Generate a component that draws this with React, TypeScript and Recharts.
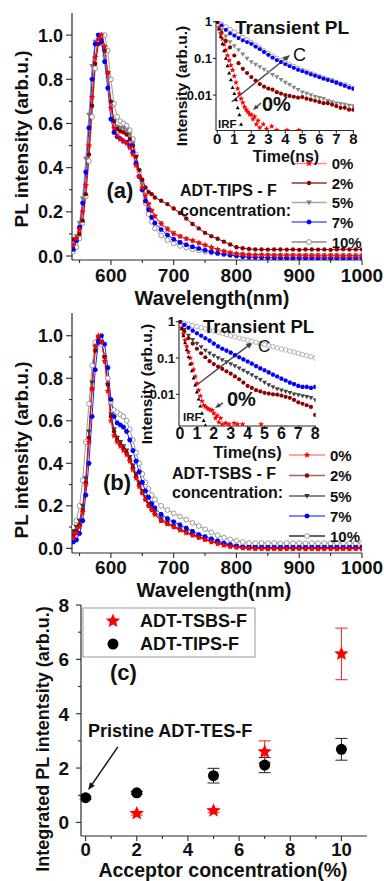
import React from 'react';
import { LineChart, Line, XAxis, YAxis, ReferenceLine, ComposedChart, Scatter, ErrorBar } from 'recharts';

const FONT = "'Liberation Sans', Arial, Helvetica, sans-serif";
const AX = '#2a2a2a';

// ---------- Panel (a)/(b) spectra ----------
const WL = [540, 545, 550, 555, 560, 565, 570, 575, 580, 585,
  590, 595, 600, 605, 610, 615, 620, 625, 630, 635,
  640, 645, 650, 655, 660, 665, 670, 680, 690, 700,
  710, 720, 730, 740, 750, 760, 770, 780, 790, 800,
  810, 820, 830, 840, 850, 860, 870, 880, 890, 900,
  910, 920, 930, 940, 950, 960, 970, 980, 990, 1000];

const PA_0 = [0.05, 0.08, 0.12, 0.2, 0.32, 0.5, 0.72, 0.9, 0.98, 1.0,
  0.95, 0.83, 0.67, 0.58, 0.545, 0.53, 0.52, 0.51, 0.49, 0.46,
  0.41, 0.36, 0.31, 0.27, 0.235, 0.205, 0.18, 0.145, 0.12, 0.1,
  0.088, 0.078, 0.07, 0.06, 0.05, 0.04, 0.03, 0.022, 0.015, 0.01,
  0.007, 0.005, 0.004, 0.003, 0.003, 0.002, 0.002, 0.002, 0.002, 0.001,
  0.001, 0.001, 0.001, 0.0, 0.001, 0.0, 0.0, 0.0, -0.001, 0.0];
const PA_2 = [0.075, 0.08, 0.1, 0.16, 0.28, 0.46, 0.68, 0.87, 0.96, 0.98,
  0.93, 0.83, 0.7, 0.61, 0.575, 0.565, 0.56, 0.55, 0.53, 0.5,
  0.45, 0.39, 0.345, 0.31, 0.29, 0.28, 0.265, 0.25, 0.235, 0.215,
  0.195, 0.17, 0.145, 0.125, 0.105, 0.09, 0.078, 0.065, 0.052, 0.04,
  0.035, 0.032, 0.03, 0.03, 0.029, 0.03, 0.03, 0.029, 0.03, 0.028,
  0.03, 0.03, 0.029, 0.03, 0.028, 0.03, 0.031, 0.03, 0.03, 0.03];
const PA_5 = [0.04, 0.09, 0.15, 0.26, 0.44, 0.64, 0.86, 0.97, 1.0, 0.96,
  0.9, 0.8, 0.68, 0.61, 0.585, 0.58, 0.58, 0.57, 0.55, 0.51,
  0.45, 0.385, 0.325, 0.275, 0.235, 0.205, 0.18, 0.15, 0.125, 0.105,
  0.09, 0.078, 0.067, 0.057, 0.047, 0.037, 0.028, 0.021, 0.015, 0.011,
  0.008, 0.006, 0.005, 0.005, 0.004, 0.004, 0.004, 0.004, 0.004, 0.003,
  0.004, 0.003, 0.004, 0.003, 0.003, 0.004, 0.003, 0.003, 0.003, 0.003];
const PA_7 = [0.03, 0.07, 0.13, 0.24, 0.38, 0.58, 0.8, 0.96, 1.0, 0.97,
  0.88, 0.76, 0.62, 0.56, 0.54, 0.53, 0.52, 0.515, 0.5, 0.47,
  0.42, 0.36, 0.3, 0.25, 0.21, 0.175, 0.15, 0.12, 0.095, 0.076,
  0.062, 0.051, 0.042, 0.034, 0.026, 0.019, 0.013, 0.008, 0.004, 0.0,
  -0.003, -0.005, -0.006, -0.007, -0.008, -0.008, -0.009, -0.009, -0.009, -0.009,
  -0.009, -0.009, -0.009, -0.009, -0.01, -0.009, -0.009, -0.01, -0.009, -0.009];
const PA_10 = [0.02, 0.04, 0.08, 0.15, 0.27, 0.43, 0.63, 0.85, 0.97, 1.0,
  1.0, 0.93, 0.8, 0.69, 0.63, 0.61, 0.6, 0.59, 0.57, 0.53,
  0.46, 0.38, 0.3, 0.24, 0.19, 0.155, 0.125, 0.093, 0.072, 0.057,
  0.046, 0.038, 0.031, 0.025, 0.02, 0.016, 0.012, 0.01, 0.008, 0.006,
  0.005, 0.004, 0.003, 0.003, 0.003, 0.002, 0.002, 0.002, 0.002, 0.002,
  0.002, 0.002, 0.002, 0.002, 0.002, 0.002, 0.002, 0.002, 0.002, 0.002];

const PB_0 = [0.05, 0.07, 0.1, 0.17, 0.3, 0.5, 0.75, 0.95, 1.0, 0.97,
  0.88, 0.74, 0.6, 0.53, 0.5, 0.48, 0.46, 0.44, 0.41, 0.37,
  0.33, 0.29, 0.26, 0.23, 0.2, 0.18, 0.16, 0.13, 0.115, 0.1,
  0.085, 0.072, 0.06, 0.05, 0.04, 0.03, 0.022, 0.014, 0.008, 0.004,
  0.001, 0.0, -0.002, -0.002, -0.003, -0.002, -0.003, -0.002, -0.003, -0.002,
  -0.003, -0.002, -0.003, -0.003, -0.002, -0.003, -0.002, -0.003, -0.002, -0.003];
const PB_2 = [0.06, 0.08, 0.11, 0.18, 0.31, 0.52, 0.75, 0.93, 0.98, 0.97,
  0.9, 0.77, 0.62, 0.55, 0.51, 0.49, 0.47, 0.45, 0.42, 0.38,
  0.34, 0.3, 0.26, 0.23, 0.2, 0.18, 0.16, 0.13, 0.115, 0.1,
  0.088, 0.075, 0.063, 0.052, 0.042, 0.032, 0.024, 0.016, 0.01, 0.005,
  0.002, 0.0, -0.001, -0.001, -0.002, -0.001, -0.002, -0.001, -0.002, -0.001,
  -0.002, -0.001, -0.002, -0.002, -0.001, -0.002, -0.001, -0.002, -0.001, -0.002];
const PB_5 = [0.08, 0.1, 0.13, 0.2, 0.33, 0.55, 0.78, 0.95, 0.99, 0.97,
  0.9, 0.77, 0.63, 0.56, 0.52, 0.5, 0.48, 0.46, 0.43, 0.39,
  0.35, 0.31, 0.27, 0.24, 0.21, 0.19, 0.17, 0.14, 0.12, 0.105,
  0.09, 0.077, 0.065, 0.055, 0.045, 0.035, 0.027, 0.02, 0.014, 0.01,
  0.008, 0.007, 0.006, 0.005, 0.005, 0.005, 0.005, 0.005, 0.005, 0.005,
  0.005, 0.005, 0.005, 0.005, 0.005, 0.005, 0.005, 0.005, 0.005, 0.005];
const PB_7 = [0.03, 0.04, 0.07, 0.13, 0.25, 0.4, 0.62, 0.84, 0.97, 1.0,
  0.96, 0.85, 0.7, 0.62, 0.59, 0.58, 0.57, 0.55, 0.51, 0.46,
  0.41, 0.36, 0.31, 0.27, 0.24, 0.21, 0.19, 0.16, 0.14, 0.125,
  0.11, 0.095, 0.08, 0.065, 0.055, 0.045, 0.035, 0.025, 0.017, 0.01,
  0.005, 0.003, 0.003, 0.004, 0.003, 0.004, 0.003, 0.004, 0.003, 0.004,
  0.003, 0.004, 0.003, 0.004, 0.003, 0.004, 0.003, 0.004, 0.003, 0.003];
const PB_10 = [0.1, 0.13, 0.2, 0.32, 0.5, 0.68, 0.86, 0.97, 0.98, 0.96,
  0.9, 0.8, 0.69, 0.65, 0.64, 0.63, 0.62, 0.6, 0.56, 0.51,
  0.45, 0.4, 0.35, 0.31, 0.28, 0.25, 0.23, 0.2, 0.18, 0.165,
  0.15, 0.135, 0.12, 0.105, 0.09, 0.075, 0.062, 0.05, 0.042, 0.035,
  0.03, 0.025, 0.024, 0.025, 0.024, 0.025, 0.024, 0.025, 0.024, 0.025,
  0.024, 0.025, 0.024, 0.025, 0.024, 0.025, 0.024, 0.025, 0.024, 0.025];

const WL_TICKS = [550, 600, 650, 700, 750, 800, 850, 900, 950, 1000];
const WL_MAJOR = [600, 700, 800, 900, 1000];
const PL_TICKS = [0, 0.1, 0.2, 0.3, 0.4, 0.5, 0.6, 0.7, 0.8, 0.9, 1.0];
const PL_MAJOR = [0, 0.2, 0.4, 0.6, 0.8, 1.0];
const CONC_LABELS = ['0%', '2%', '5%', '7%', '10%'];

// ---------- insets: transient PL ----------
const T = [0, 0.25, 0.5, 0.75, 1, 1.25, 1.5, 1.75, 2, 2.25, 2.5, 2.75, 3, 3.25, 3.5, 3.75, 4,
  4.25, 4.5, 4.75, 5, 5.25, 5.5, 5.75, 6, 6.25, 6.5, 6.75, 7, 7.25, 7.5, 7.75, 8];

const TA_0 = [0, 0.1, 0.2, 0.3, 0.4, 0.5, 0.6, 0.7, 0.8, 0.9, 1.0, 1.1, 1.2, 1.3, 1.4, 1.5,
  1.6, 1.7, 1.8, 1.9, 2.0, 2.1, 2.2, 2.3, 2.4, 2.5, 2.7, 2.9, 3.2, 3.5, 4.1, 4.8];
const IA_0 = [1, 0.7, 0.49, 0.34, 0.24, 0.17, 0.12, 0.088, 0.065, 0.048, 0.033, 0.022, 0.015, 0.011, 0.008, 0.0062,
  0.0048, 0.004, 0.0035, 0.003, 0.0029, 0.0022, 0.0026, 0.0016, 0.002, 0.0013, 0.0016, 0.0012, 0.0014, 0.0011, 0.0011, 0.0011];
const IA_2 = [1, 0.5, 0.3, 0.2, 0.12, 0.074, 0.052, 0.04, 0.031, 0.025, 0.02, 0.017, 0.015, 0.014, 0.012, 0.011, 0.01,
  0.0095, 0.009, 0.0085, 0.0088, 0.008, 0.0075, 0.007, 0.0065, 0.006, 0.006, 0.0055, 0.005, 0.0045, 0.0045, 0.004, 0.004];
const IA_5 = [1, 0.6, 0.4, 0.28, 0.22, 0.17, 0.13, 0.1, 0.08, 0.068, 0.058, 0.05, 0.042, 0.036, 0.031, 0.026, 0.022,
  0.019, 0.016, 0.014, 0.012, 0.011, 0.01, 0.009, 0.0085, 0.008, 0.007, 0.0065, 0.006, 0.0058, 0.0055, 0.0052, 0.005];
const IA_7 = [1, 0.8, 0.6, 0.48, 0.42, 0.36, 0.31, 0.28, 0.25, 0.21, 0.18, 0.15, 0.125, 0.105, 0.09, 0.08, 0.07,
  0.062, 0.055, 0.049, 0.045, 0.041, 0.037, 0.034, 0.031, 0.028, 0.026, 0.024, 0.022, 0.02, 0.018, 0.016, 0.015];
const IA_10 = [1, 0.85, 0.72, 0.62, 0.52, 0.44, 0.37, 0.32, 0.27, 0.23, 0.19, 0.16, 0.135, 0.115, 0.1, 0.088, 0.077,
  0.067, 0.06, 0.053, 0.047, 0.043, 0.039, 0.035, 0.032, 0.029, 0.027, 0.025, 0.022, 0.02, 0.019, 0.017, 0.015];
const TA_IRF = [0, 0.1, 0.2, 0.3, 0.4, 0.5, 0.6, 0.7, 0.8, 0.9, 1.0, 1.1, 1.2, 1.3, 1.4];
const IA_IRF = [1, 0.63, 0.4, 0.25, 0.16, 0.1, 0.063, 0.04, 0.026, 0.016, 0.011, 0.0074, 0.0045, 0.0029, 0.0016];

const TB_0 = [0, 0.1, 0.2, 0.3, 0.4, 0.5, 0.6, 0.7, 0.8, 0.9, 1.0, 1.1, 1.2, 1.3, 1.4, 1.5,
  1.6, 1.7, 1.8, 1.9, 2.0, 2.1, 2.2, 2.3, 2.4, 2.5, 2.7, 2.9, 3.2, 3.4, 3.7, 4.8];
const IB_0 = [1, 0.68, 0.46, 0.31, 0.21, 0.145, 0.1, 0.07, 0.048, 0.031, 0.02, 0.013, 0.009, 0.0065, 0.005, 0.0046,
  0.0042, 0.0039, 0.0037, 0.0037, 0.003, 0.0022, 0.0026, 0.0017, 0.0022, 0.0015, 0.0016, 0.0015, 0.0016, 0.0015, 0.0015, 0.0015];
const IB_2 = [1, 0.55, 0.35, 0.25, 0.18, 0.135, 0.105, 0.082, 0.068, 0.058, 0.05, 0.043, 0.037, 0.031, 0.026, 0.021, 0.017,
  0.015, 0.013, 0.012, 0.011, 0.0105, 0.01, 0.0098, 0.0092, 0.0085, 0.008, 0.007, 0.006, 0.0055, 0.005, 0.0045, 0.0027];
const IB_5 = [1, 0.6, 0.42, 0.32, 0.25, 0.2, 0.16, 0.135, 0.115, 0.1, 0.088, 0.078, 0.068, 0.06, 0.052, 0.045, 0.039,
  0.034, 0.029, 0.025, 0.021, 0.018, 0.016, 0.014, 0.013, 0.012, 0.011, 0.01, 0.0095, 0.009, 0.0085, 0.008, 0.007];
const IB_7 = [1, 0.82, 0.68, 0.57, 0.48, 0.41, 0.35, 0.3, 0.25, 0.21, 0.18, 0.16, 0.14, 0.12, 0.105, 0.092, 0.08,
  0.07, 0.06, 0.052, 0.046, 0.04, 0.035, 0.031, 0.027, 0.024, 0.021, 0.019, 0.017, 0.016, 0.016, 0.015, 0.016];
const IB_10 = [1, 0.92, 0.85, 0.79, 0.73, 0.68, 0.63, 0.59, 0.55, 0.51, 0.475, 0.44, 0.41, 0.38, 0.355, 0.33, 0.31,
  0.29, 0.27, 0.25, 0.235, 0.22, 0.205, 0.19, 0.178, 0.166, 0.155, 0.145, 0.135, 0.125, 0.116, 0.108, 0.1];
const TB_IRF = [0, 0.1, 0.2, 0.3, 0.4, 0.5, 0.6, 0.7, 0.8, 0.9, 1.0, 1.1, 1.2, 1.3, 1.4, 1.5];
const IB_IRF = [1, 0.64, 0.41, 0.26, 0.17, 0.107, 0.068, 0.044, 0.028, 0.018, 0.0115, 0.0074, 0.0047, 0.003, 0.0019, 0.0014];

const TIME_TICKS = [0, 1, 2, 3, 4, 5, 6, 7, 8];
const LOG_TICKS = [0.01, 0.1, 1];

// ---------- Panel (c) ----------
const CONC_TIPS = [0, 2, 5, 7, 10];
const PL_TIPS = [0.91, 1.09, 1.72, 2.11, 2.69];
const ERR_TIPS = [0.05, 0.05, 0.27, 0.28, 0.4];
const CONC_TSBS = [2, 5, 7, 10];
const PL_TSBS = [0.33, 0.43, 2.6, 6.2];
const ERR_TSBS = [0.06, 0.06, 0.4, 0.95];
const C_X_TICKS = [0, 1, 2, 3, 4, 5, 6, 7, 8, 9, 10];
const C_X_MAJOR = [0, 2, 4, 6, 8, 10];
const C_Y_TICKS = [0, 1, 2, 3, 4, 5, 6, 7, 8];
const C_Y_MAJOR = [0, 2, 4, 6, 8];

// ---------- helpers ----------
type MStyle = { kind: string; fill?: string; stroke?: string; r: number };

function starPoints(cx: number, cy: number, R: number, r: number) {
  const pts: string[] = [];
  for (let k = 0; k < 10; k++) {
    const a = -Math.PI / 2 + (k * Math.PI) / 5;
    const rad = k % 2 === 0 ? R : r;
    pts.push(`${cx + rad * Math.cos(a)},${cy + rad * Math.sin(a)}`);
  }
  return pts.join(' ');
}
function hexPoints(cx: number, cy: number, R: number) {
  const pts: string[] = [];
  for (let k = 0; k < 6; k++) {
    const a = (k * Math.PI) / 3;
    pts.push(`${cx + R * Math.cos(a)},${cy + R * Math.sin(a)}`);
  }
  return pts.join(' ');
}

function Mark({ cx, cy, m }: { cx: number; cy: number; m: MStyle }) {
  const r = m.r;
  switch (m.kind) {
    case 'star':
      return <polygon points={starPoints(cx, cy, r, r * 0.45)} fill={m.fill} />;
    case 'circle':
      return <circle cx={cx} cy={cy} r={r} fill={m.fill} />;
    case 'tridown':
      return <polygon points={`${cx - r},${cy - r * 0.7} ${cx + r},${cy - r * 0.7} ${cx},${cy + r}`} fill={m.fill} />;
    case 'triup':
      return <polygon points={`${cx - r},${cy + r * 0.7} ${cx + r},${cy + r * 0.7} ${cx},${cy - r}`} fill={m.fill} />;
    case 'hex':
      return <polygon points={hexPoints(cx, cy, r)} fill={m.fill} />;
    case 'open':
      return <circle cx={cx} cy={cy} r={r} fill="#fff" stroke={m.stroke} strokeWidth={0.9} />;
    default:
      return <circle cx={cx} cy={cy} r={r} fill={m.fill} />;
  }
}

const dotFn = (m: MStyle) => (p: any) => {
  const ok = Number.isFinite(p.cx) && Number.isFinite(p.cy);
  return <g key={`d${p.index}`}>{ok ? <Mark cx={p.cx} cy={p.cy} m={m} /> : null}</g>;
};

const isMaj = (majors: number[], v: number) => majors.some((m) => Math.abs(m - v) < 1e-9);

function tickBottom(majors: number[], fmt: (v: number) => string, font: number, gap: number, majLen: number, minLen: number) {
  return (p: any) => {
    const v = p.payload.value;
    const maj = isMaj(majors, v);
    return (
      <g>
        <line x1={p.x} x2={p.x} y1={p.y} y2={p.y + (maj ? majLen : minLen)} stroke={AX} strokeWidth={1.1} />
        {maj ? (
          <text x={p.x} y={p.y + gap} textAnchor="middle" fontSize={font} fontWeight="bold" fontFamily={FONT} fill="#111">
            {fmt(v)}
          </text>
        ) : null}
      </g>
    );
  };
}
function tickLeft(majors: number[], fmt: (v: number) => string, font: number, gap: number, majLen: number, minLen: number) {
  return (p: any) => {
    const v = p.payload.value;
    const maj = isMaj(majors, v);
    return (
      <g>
        <line x1={p.x} x2={p.x - (maj ? majLen : minLen)} y1={p.y} y2={p.y} stroke={AX} strokeWidth={1.1} />
        {maj ? (
          <text x={p.x - gap} y={p.y} dy="0.36em" textAnchor="end" fontSize={font} fontWeight="bold" fontFamily={FONT} fill="#111">
            {fmt(v)}
          </text>
        ) : null}
      </g>
    );
  };
}
function tickRight(majors: number[], majLen: number, minLen: number) {
  return (p: any) => {
    const v = p.payload.value;
    const maj = isMaj(majors, v);
    return <line x1={p.x} x2={p.x + (maj ? majLen : minLen)} y1={p.y} y2={p.y} stroke={AX} strokeWidth={1.1} />;
  };
}

const arrowShape = (color: string, head: number, width: number) => (p: any) => {
  const { x1, y1, x2, y2 } = p;
  if (![x1, y1, x2, y2].every((v) => Number.isFinite(v))) return <g />;
  const a = Math.atan2(y2 - y1, x2 - x1);
  const hx1 = x2 - head * Math.cos(a - 0.38);
  const hy1 = y2 - head * Math.sin(a - 0.38);
  const hx2 = x2 - head * Math.cos(a + 0.38);
  const hy2 = y2 - head * Math.sin(a + 0.38);
  return (
    <g>
      <line x1={x1} y1={y1} x2={x2 - head * 0.6 * Math.cos(a)} y2={y2 - head * 0.6 * Math.sin(a)} stroke={color} strokeWidth={width} />
      <polygon points={`${x2},${y2} ${hx1},${hy1} ${hx2},${hy2}`} fill={color} />
    </g>
  );
};

const fmt1 = (v: number) => v.toFixed(1);
const fmtInt = (v: number) => String(v);
const fmtLog = (v: number) => (v >= 1 ? '1' : v >= 0.1 ? '0.1' : '0.01');

// ---------- series styles ----------
type SStyle = { key: string; line: string; legendLine: string; m: MStyle; label: string };
const STY_A: SStyle[] = [
  { key: 's10', line: '#a0a0a0', legendLine: '#8a8a8a', m: { kind: 'open', stroke: '#8a8a8a', r: 2.4 }, label: '10%' },
  { key: 's5', line: '#8f8f8f', legendLine: '#a8a8a8', m: { kind: 'tridown', fill: '#7a7a7a', r: 2.8 }, label: '5%' },
  { key: 's2', line: '#8b0000', legendLine: '#a03030', m: { kind: 'circle', fill: '#8b0000', r: 2.2 }, label: '2%' },
  { key: 's7', line: '#2020ff', legendLine: '#5a5aff', m: { kind: 'hex', fill: '#0000ff', r: 2.7 }, label: '7%' },
  { key: 's0', line: '#ff2020', legendLine: '#ff8a8a', m: { kind: 'star', fill: '#ff0000', r: 3.4 }, label: '0%' },
];
const STY_B: SStyle[] = [
  { key: 's10', line: '#9a9a9a', legendLine: '#303030', m: { kind: 'open', stroke: '#909090', r: 2.4 }, label: '10%' },
  { key: 's5', line: '#404040', legendLine: '#606060', m: { kind: 'tridown', fill: '#3a3a3a', r: 2.8 }, label: '5%' },
  { key: 's2', line: '#8b0000', legendLine: '#b06060', m: { kind: 'circle', fill: '#8b0000', r: 2.2 }, label: '2%' },
  { key: 's7', line: '#2020ff', legendLine: '#5a5aff', m: { kind: 'hex', fill: '#0000ff', r: 2.7 }, label: '7%' },
  { key: 's0', line: '#ff2020', legendLine: '#ff8a8a', m: { kind: 'star', fill: '#ff0000', r: 3.4 }, label: '0%' },
];

const spectraRows = (s0: number[], s2: number[], s5: number[], s7: number[], s10: number[]) =>
  WL.map((w, i) => ({ wl: w, s0: s0[i], s2: s2[i], s5: s5[i], s7: s7[i], s10: s10[i] }));
const ROWS_A = spectraRows(PA_0, PA_2, PA_5, PA_7, PA_10);
const ROWS_B = spectraRows(PB_0, PB_2, PB_5, PB_7, PB_10);

const tRows = (t: number[], v: number[]) => t.map((x, i) => ({ t: x, v: v[i] }));

type ISeries = { id: string; data: any[]; line: string; m: MStyle };
const INSET_A: ISeries[] = [
  { id: 'i10', data: tRows(T, IA_10), line: '#a8a8a8', m: { kind: 'open', stroke: '#999', r: 2.3 } },
  { id: 'i7', data: tRows(T, IA_7), line: 'none', m: { kind: 'hex', fill: '#0000ff', r: 2.2 } },
  { id: 'i5', data: tRows(T, IA_5), line: 'none', m: { kind: 'tridown', fill: '#888', r: 2.5 } },
  { id: 'i2', data: tRows(T, IA_2), line: 'none', m: { kind: 'circle', fill: '#8b0000', r: 2.1 } },
  { id: 'i0', data: tRows(TA_0, IA_0), line: 'none', m: { kind: 'star', fill: '#ff0000', r: 3 } },
  { id: 'irf', data: tRows(TA_IRF, IA_IRF), line: 'none', m: { kind: 'triup', fill: '#000', r: 2 } },
];
const INSET_B: ISeries[] = [
  { id: 'i10', data: tRows(T, IB_10), line: '#9a9a9a', m: { kind: 'open', stroke: '#aaa', r: 2.2 } },
  { id: 'i7', data: tRows(T, IB_7), line: 'none', m: { kind: 'hex', fill: '#0000ff', r: 2.4 } },
  { id: 'i5', data: tRows(T, IB_5), line: 'none', m: { kind: 'tridown', fill: '#444', r: 2.5 } },
  { id: 'i2', data: tRows(T, IB_2), line: 'none', m: { kind: 'circle', fill: '#8b0000', r: 2.1 } },
  { id: 'i0', data: tRows(TB_0, IB_0), line: 'none', m: { kind: 'star', fill: '#ff0000', r: 3 } },
  { id: 'irf', data: tRows(TB_IRF, IB_IRF), line: 'none', m: { kind: 'triup', fill: '#000', r: 2 } },
];

// ---------- components ----------
function Spectra({ rows, sty, yDomain, top, height, marginTop, xAxisH, tickGap }: any) {
  return (
    <div style={{ position: 'absolute', left: 0, top }}>
      <LineChart width={384} height={height} data={rows} margin={{ top: marginTop, right: 22, bottom: 0, left: 0 }}>
        <XAxis dataKey="wl" type="number" domain={[538, 1000]} ticks={WL_TICKS} interval={0}
          tick={tickBottom(WL_MAJOR, fmtInt, 19, tickGap, 5, 3)} tickLine={false} tickSize={0} tickMargin={0}
          height={xAxisH} axisLine={{ stroke: AX, strokeWidth: 1.2 }} allowDataOverflow />
        <XAxis xAxisId="top" orientation="top" dataKey="wl" type="number" domain={[538, 1000]} height={0}
          tick={false} tickLine={false} axisLine={{ stroke: AX, strokeWidth: 1.2 }} allowDataOverflow />
        <YAxis type="number" domain={yDomain} ticks={PL_TICKS} interval={0} width={72}
          tick={tickLeft(PL_MAJOR, fmt1, 18, 9, 6, 3)} tickLine={false} tickSize={0} tickMargin={0}
          axisLine={{ stroke: AX, strokeWidth: 1.2 }} allowDataOverflow />
        <YAxis yAxisId="r" orientation="right" type="number" domain={yDomain} width={0} tick={false}
          tickLine={false} axisLine={{ stroke: AX, strokeWidth: 1.2 }} allowDataOverflow />
        {sty.map((s: SStyle) => (
          <Line key={s.key} dataKey={s.key} type="linear" stroke={s.line} strokeWidth={1}
            dot={dotFn(s.m)} activeDot={false} isAnimationActive={false} />
        ))}
      </LineChart>
    </div>
  );
}

function Inset({ left, top, width, height, margin, yW, xH, xDomain, yDomain, series, labelGap, labelFont, arrows }: any) {
  return (
    <div style={{ position: 'absolute', left, top }}>
      <LineChart width={width} height={height} margin={margin}>
        <XAxis dataKey="t" type="number" domain={xDomain} ticks={TIME_TICKS} interval={0}
          tick={tickBottom(TIME_TICKS, fmtInt, labelFont, labelGap, 3, 2)} tickLine={false} tickSize={0} tickMargin={0}
          height={xH} axisLine={{ stroke: AX, strokeWidth: 1.1 }} allowDataOverflow />
        <XAxis xAxisId="top" orientation="top" dataKey="t" type="number" domain={xDomain} height={0}
          tick={false} tickLine={false} axisLine={{ stroke: AX, strokeWidth: 1.1 }} allowDataOverflow />
        <YAxis dataKey="v" type="number" scale="log" domain={yDomain} ticks={LOG_TICKS} interval={0} width={yW}
          tick={tickLeft(LOG_TICKS, fmtLog, 13, 4, 3, 2)} tickLine={false} tickSize={0} tickMargin={0}
          axisLine={{ stroke: AX, strokeWidth: 1.1 }} allowDataOverflow />
        <YAxis yAxisId="r" orientation="right" type="number" scale="log" domain={yDomain} width={0} tick={false}
          tickLine={false} axisLine={{ stroke: AX, strokeWidth: 1.1 }} allowDataOverflow />
        {series.map((s: ISeries) => (
          <Line key={s.id} data={s.data} dataKey="v" type="linear" stroke={s.line} strokeWidth={1}
            dot={dotFn(s.m)} activeDot={false} isAnimationActive={false} />
        ))}
        {arrows.map((a: any, i: number) => (
          <ReferenceLine key={`ar${i}`} segment={a.seg} ifOverflow="visible" shape={arrowShape(a.color, a.head, a.w)} />
        ))}
      </LineChart>
    </div>
  );
}

function PanelC() {
  const tips = CONC_TIPS.map((x, i) => ({ x, y: PL_TIPS[i], e: ERR_TIPS[i] }));
  const tsbs = CONC_TSBS.map((x, i) => ({ x, y: PL_TSBS[i], e: ERR_TSBS[i] }));
  const circ: MStyle = { kind: 'circle', fill: '#000', r: 5.5 };
  const star: MStyle = { kind: 'star', fill: '#ff0000', r: 7.5 };
  return (
    <div style={{ position: 'absolute', left: 0, top: 580 }}>
      <ComposedChart width={384} height={301} margin={{ top: 25, right: 17, bottom: 0, left: 0 }}>
        <XAxis dataKey="x" type="number" domain={[-0.18, 11]} ticks={C_X_TICKS} interval={0}
          tick={tickBottom(C_X_MAJOR, fmtInt, 18.5, 19.5, 5, 3)} tickLine={false} tickSize={0} tickMargin={0}
          height={45} axisLine={{ stroke: AX, strokeWidth: 1.2 }} allowDataOverflow />
        <XAxis xAxisId="top" orientation="top" dataKey="x" type="number" domain={[-0.18, 11]} height={0}
          tick={false} tickLine={false} axisLine={{ stroke: AX, strokeWidth: 1.2 }} allowDataOverflow />
        <YAxis dataKey="y" type="number" domain={[-0.5, 8]} ticks={C_Y_TICKS} interval={0} width={81}
          tick={tickLeft(C_Y_MAJOR, fmtInt, 19, 12, 5, 3)} tickLine={false} tickSize={0} tickMargin={0}
          axisLine={{ stroke: AX, strokeWidth: 1.2 }} allowDataOverflow />
        <YAxis yAxisId="r" orientation="right" type="number" domain={[-0.5, 8]} ticks={C_Y_TICKS} interval={0}
          width={0} tick={tickRight(C_Y_MAJOR, 5, 3)} tickLine={false} tickSize={0} tickMargin={0}
          axisLine={{ stroke: AX, strokeWidth: 1.2 }} allowDataOverflow />
        <Scatter data={tips} dataKey="y" isAnimationActive={false}
          shape={(p: any) => <Mark cx={p.cx} cy={p.cy} m={circ} />}>
          <ErrorBar dataKey="e" direction="y" width={6} stroke="#222" strokeWidth={1} />
        </Scatter>
        <Scatter data={tsbs} dataKey="y" isAnimationActive={false}
          shape={(p: any) => <Mark cx={p.cx} cy={p.cy} m={star} />}>
          <ErrorBar dataKey="e" direction="y" width={6} stroke="#ee2020" strokeWidth={1} />
        </Scatter>
        <ReferenceLine segment={[{ x: 1.26, y: 2.78 }, { x: 0.1, y: 1.19 }]} ifOverflow="visible"
          shape={arrowShape('#111', 8, 1.5)} />
      </ComposedChart>
    </div>
  );
}

const tx = (s: number, w: any = 'bold') => ({ fontSize: s, fontWeight: w, fontFamily: FONT, fill: '#111' });

function Legend5({ sty, x1, x2, xm, xl, ys }: any) {
  const order = ['s0', 's2', 's5', 's7', 's10'];
  return (
    <g>
      {order.map((k, i) => {
        const s = sty.find((q: SStyle) => q.key === k) as SStyle;
        const y = ys[i];
        return (
          <g key={k}>
            <line x1={x1} x2={x2} y1={y} y2={y} stroke={s.legendLine} strokeWidth={1.4} />
            <Mark cx={xm} cy={y} m={s.m} />
            <text x={xl} y={y + 5.5} {...tx(15)}>{CONC_LABELS[i]}</text>
          </g>
        );
      })}
    </g>
  );
}

function Overlay() {
  return (
    <svg width={384} height={881} style={{ position: 'absolute', left: 0, top: 0, pointerEvents: 'none' }}>
      {/* panel a */}
      <text transform="translate(21,139) rotate(-90)" textAnchor="middle" dominantBaseline="central" {...tx(19)}>PL intensity (arb.u.)</text>
      <text x={212} y={305} textAnchor="middle" {...tx(20)}>Wavelength(nm)</text>
      <text x={120} y={198} textAnchor="middle" {...tx(22)}>(a)</text>
      <text x={180} y={196} {...tx(16)}>ADT-TIPS - F</text>
      <text x={180} y={216} {...tx(16)}>concentration:</text>
      <Legend5 sty={STY_A} x1={291.7} x2={326.7} xm={309} xl={331.7} ys={[163.5, 183, 202.5, 222, 242]} />
      <text x={235} y={34} {...tx(19)}>Transient PL</text>
      <text x={293} y={61} {...tx(18, 'normal')}>C</text>
      <text x={262} y={111} {...tx(20)}>0%</text>
      <text x={218} y={128} {...tx(11.5)}>IRF</text>
      <text transform="translate(181.5,86) rotate(-90)" textAnchor="middle" dominantBaseline="central" {...tx(15.5)}>Intensity (arb.u.)</text>
      <text x={286} y={162} textAnchor="middle" {...tx(16)}>Time(ns)</text>

      {/* panel b */}
      <text transform="translate(21,450) rotate(-90)" textAnchor="middle" dominantBaseline="central" {...tx(19)}>PL intensity (arb.u.)</text>
      <text x={214} y={597} textAnchor="middle" {...tx(20)}>Wavelength(nm)</text>
      <text x={117} y={490} textAnchor="middle" {...tx(22)}>(b)</text>
      <text x={172} y={479} {...tx(16)}>ADT-TSBS - F</text>
      <text x={172} y={498} {...tx(16)}>concentration:</text>
      <Legend5 sty={STY_B} x1={289} x2={325} xm={307} xl={330} ys={[455, 475.5, 496, 516, 536]} />
      <text x={203} y={332.5} {...tx(18.5)}>Transient PL</text>
      <text x={258} y={352} {...tx(17, 'normal')}>C</text>
      <text x={227} y={406} {...tx(20)}>0%</text>
      <text x={183} y={421} {...tx(11.5)}>IRF</text>
      <text transform="translate(146.5,384) rotate(-90)" textAnchor="middle" dominantBaseline="central" {...tx(15.5)}>Intensity (arb.u.)</text>
      <text x={247.5} y={458} textAnchor="middle" {...tx(16.5)}>Time(ns)</text>

      {/* panel c */}
      <text transform="translate(43,739) rotate(-90)" textAnchor="middle" dominantBaseline="central" {...tx(18)}>Integrated PL intentsity (arb.u.)</text>
      <text x={223} y={877} textAnchor="middle" {...tx(19.5)}>Acceptor concentration(%)</text>
      <text x={110} y={680} {...tx(22)}>(c)</text>
      <text x={88} y={737} {...tx(18)}>Pristine ADT-TES-F</text>
      <rect x={83} y={608} width={172} height={49} fill="#fff" stroke="#999" strokeWidth={1} />
      <Mark cx={113} cy={621} m={{ kind: 'star', fill: '#ff0000', r: 7.5 }} />
      <text x={140} y={627} {...tx(18)}>ADT-TSBS-F</text>
      <Mark cx={113} cy={644} m={{ kind: 'circle', fill: '#000', r: 5.5 }} />
      <text x={140} y={650} {...tx(18)}>ADT-TIPS-F</text>
    </svg>
  );
}

export default function App() {
  const arrowsA = [
    { seg: [{ x: 0.85, y: 0.0066 }, { x: 4.28, y: 0.124 }], color: '#444', head: 8, w: 1.4 },
    { seg: [{ x: 2.57, y: 0.0061 }, { x: 2.1, y: 0.0039 }], color: '#444', head: 6, w: 1.4 },
  ];
  const arrowsB = [
    { seg: [{ x: 0.99, y: 0.018 }, { x: 4.34, y: 0.281 }], color: '#444', head: 8, w: 1.4 },
    { seg: [{ x: 2.54, y: 0.0058 }, { x: 2.07, y: 0.0042 }], color: '#444', head: 6, w: 1.4 },
  ];
  return (
    <div style={{ position: 'absolute', left: 0, top: 0, width: 384, height: 881, background: '#fff', overflow: 'hidden', fontFamily: FONT }}>
      <Spectra rows={ROWS_A} sty={STY_A} yDomain={[-0.018, 1.1]} top={0} height={300} marginTop={13} xAxisH={40} tickGap={22} />
      <Spectra rows={ROWS_B} sty={STY_B} yDomain={[-0.022, 1.107]} top={300} height={300} marginTop={13} xAxisH={47} tickGap={21} />
      <Inset left={150} top={0} width={234} height={170} margin={{ top: 21, right: 30, bottom: 0, left: 0 }}
        yW={66} xH={39.5} xDomain={[-0.076, 8.04]} yDomain={[0.00108, 1.05]} series={INSET_A} labelGap={13} labelFont={15} arrows={arrowsA} />
      <Inset left={110} top={300} width={274} height={170} margin={{ top: 20, right: 68.3, bottom: 0, left: 0 }}
        yW={69} xH={44} xDomain={[-0.06, 8.03]} yDomain={[0.00134, 1.114]} series={INSET_B} labelGap={13} labelFont={16} arrows={arrowsB} />
      <PanelC />
      <Overlay />
    </div>
  );
}
